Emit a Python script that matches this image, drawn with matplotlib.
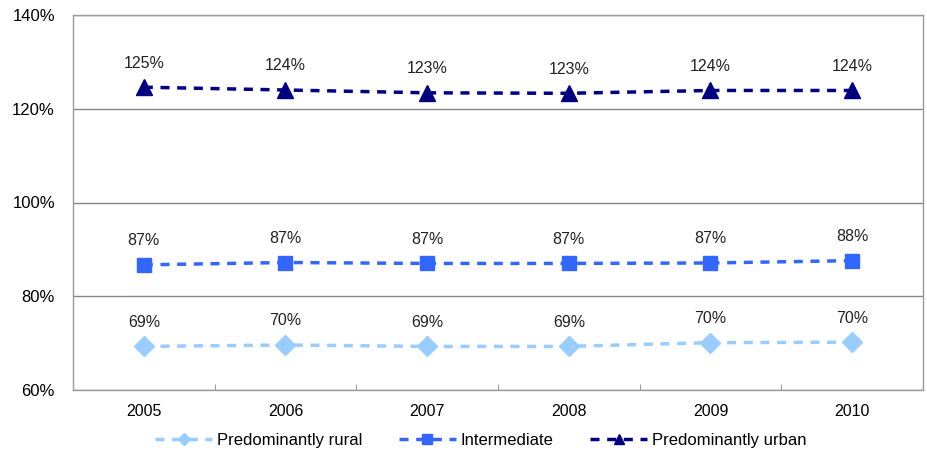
import matplotlib
matplotlib.use("Agg")
import matplotlib.pyplot as plt
import numpy as np

years = ["2005", "2006", "2007", "2008", "2009", "2010"]
rural = [69.3, 69.6, 69.3, 69.3, 70.1, 70.2]
intermediate = [86.7, 87.2, 87.0, 87.0, 87.1, 87.6]
urban = [124.6, 124.0, 123.4, 123.3, 123.9, 123.9]
yticks = [60, 80, 100, 120, 140]

plt.rcParams['font.family'] = ['Liberation Sans', 'DejaVu Sans']

fig = plt.figure(figsize=(9.28, 4.5), dpi=100)
ax = fig.add_axes([73/928, 1-390/450, (923-73)/928, (390-15)/450])

x = np.arange(len(years))
series = [
    ("Predominantly rural", rural, "#99CCFF", "D", 10),
    ("Intermediate", intermediate, "#3366FF", "s", 10),
    ("Predominantly urban", urban, "#000080", "^", 11),
]
for name, vals, col, mk, ms in series:
    ax.plot(x, vals, linestyle=(0, (2.6, 2.2)), linewidth=2.5, color=col,
            marker=mk, markersize=ms, label=name)
    for xi, v in zip(x, vals):
        ax.annotate(f"{round(v):.0f}%", (xi, v), xytext=(0, 12),
                    textcoords="offset points", ha="center", va="bottom",
                    fontsize=11.5, color="#222222")

ax.set_xlim(-0.5, len(years) - 0.5)
ax.set_ylim(60, 140)
ax.set_yticks(yticks)
ax.set_yticklabels([f"{t}%" for t in yticks], fontsize=12)
ax.set_xticks(x)
ax.set_xticklabels(years, fontsize=11.5)
ax.tick_params(axis='x', length=0, pad=10)
ax.tick_params(axis='y', length=0, pad=13)
ax.set_xticks(np.arange(0.5, len(years) - 0.5, 1), minor=True)
ax.tick_params(axis='x', which='minor', direction='in', length=4, color='#888888')
ax.grid(axis='y', color='#888888', linewidth=1)
ax.set_axisbelow(True)
for s in ax.spines.values():
    s.set_color('#999999')
    s.set_linewidth(1)

ax.legend(loc='upper center', bbox_to_anchor=(0.48, -0.075), ncol=3,
          frameon=False, fontsize=12, handlelength=3.4, columnspacing=2.2,
          handletextpad=0.3, markerscale=0.65)

fig.savefig("out.png", dpi=100)
